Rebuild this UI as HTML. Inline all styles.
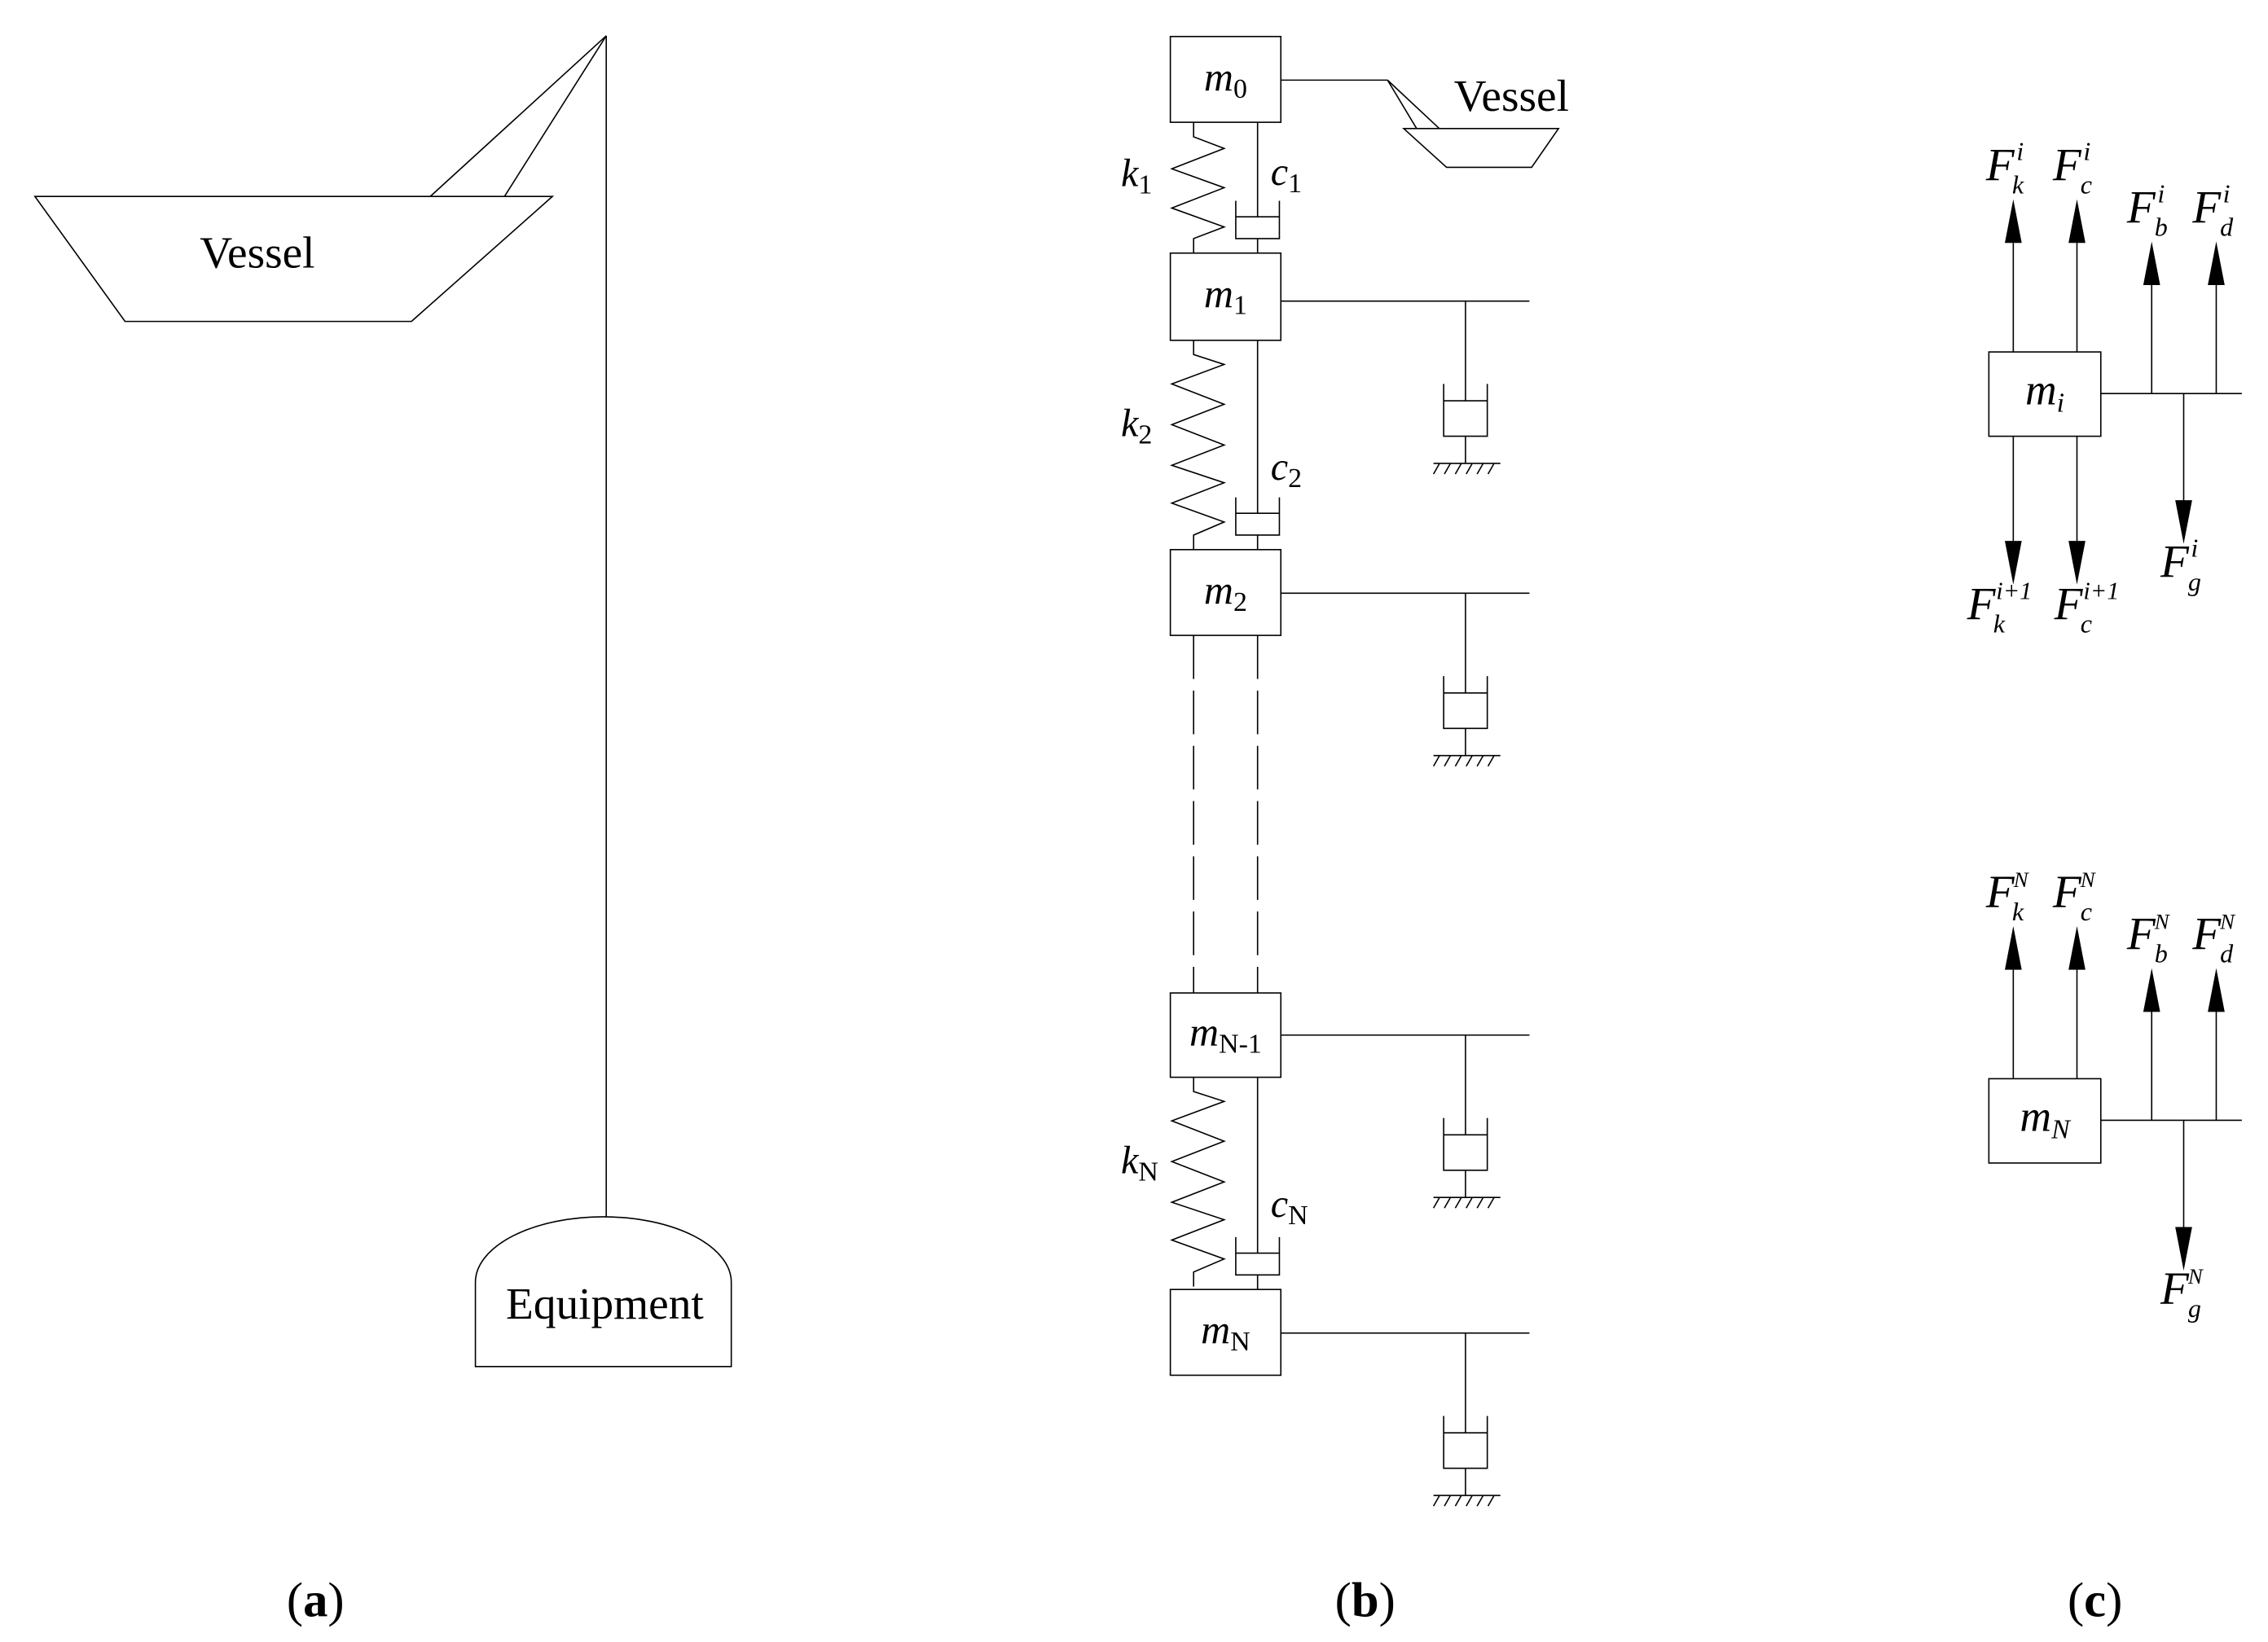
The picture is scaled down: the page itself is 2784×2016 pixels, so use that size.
<!DOCTYPE html>
<html><head><meta charset="utf-8"><style>
html,body{margin:0;padding:0;background:#fff;}
svg{display:block;}
text{font-family:"Liberation Serif",serif;fill:#000;}
</style></head><body>
<svg width="2784" height="2016" viewBox="0 0 1560 1129.4" xmlns="http://www.w3.org/2000/svg">
<defs>
<path id="spr1" d="M0,0 V10 L21,18 L-15,32 L21,45 L-15,59 L21,72 L0,80 V90" fill="none" stroke="#000" stroke-width="0.9"/>
<path id="spr2" d="M0,0 V9.8 L21,16.6 L-15,30 L21,44 L-15,58 L21,72 L-15,86 L21,98 L-15,112 L21,125 L0,134 V144" fill="none" stroke="#000" stroke-width="0.9"/>
<g id="sdamp" fill="none" stroke="#000" stroke-width="0.9">
<path d="M1008,0 V68.6 M993,68.6 H1023 M993,57 V93 H1023 V57 M1008,93 V111.7 M986,111.7 H1032"/>
<path d="M990,112 l-4,7 M997.5,112 l-4,7 M1005,112 l-4,7 M1012.5,112 l-4,7 M1020,112 l-4,7 M1027.5,112 l-4,7"/>
</g>
<g id="cdamp" fill="none" stroke="#000" stroke-width="0.9">
<path d="M850,-36 V-10 H880 V-36 M850,-25 H880 M865,-10 V0"/>
</g>
<polygon id="up" points="0,0 -5.8,30 5.8,30" fill="#000"/>
<polygon id="dn" points="0,0 -5.8,-30 5.8,-30" fill="#000"/>
</defs>

<!-- Panel (a) -->
<g fill="none" stroke="#000" stroke-width="0.9">
<line x1="417" y1="24.5" x2="417" y2="837"/>
<line x1="417" y1="24.5" x2="296" y2="135"/>
<line x1="417" y1="24.5" x2="347" y2="135"/>
<polygon points="24,135 380,135 283,221 86,221"/>
<path d="M327,940 V882 A88,45 0 0 1 503,882 V940 Z"/>
</g>
<text x="177" y="184" font-size="31" text-anchor="middle">Vessel</text>
<text x="416" y="907" font-size="31" text-anchor="middle">Equipment</text>

<!-- Panel (b) -->
<g fill="#fff" stroke="#000" stroke-width="0.9">
<rect x="805" y="25" width="76" height="59"/>
<rect x="805" y="174" width="76" height="60"/>
<rect x="805" y="378" width="76" height="59"/>
<rect x="805" y="683" width="76" height="58"/>
<rect x="805" y="887" width="76" height="59"/>
</g>
<g fill="none" stroke="#000" stroke-width="0.9">
<line x1="881" y1="55" x2="954.4" y2="55"/>
<line x1="954.4" y1="55" x2="974.4" y2="88.3"/>
<line x1="954.4" y1="55" x2="990" y2="88.3"/>
<polygon points="965.5,88.3 1072,88.3 1053.5,115 995,115"/>
<line x1="865" y1="84" x2="865" y2="149.4"/>
<line x1="865" y1="234" x2="865" y2="353"/>
<line x1="865" y1="741" x2="865" y2="862"/>
<line x1="821" y1="437" x2="821" y2="683" stroke-dasharray="30,8"/>
<line x1="865" y1="437" x2="865" y2="683" stroke-dasharray="30,8"/>
<line x1="881" y1="207" x2="1052" y2="207"/>
<line x1="881" y1="408" x2="1052" y2="408"/>
<line x1="881" y1="712" x2="1052" y2="712"/>
<line x1="881" y1="917" x2="1052" y2="917"/>
</g>
<use href="#spr1" x="821" y="84"/>
<use href="#spr2" x="821" y="234"/>
<use href="#spr2" x="821" y="741"/>
<use href="#cdamp" x="0" y="174"/>
<use href="#cdamp" x="0" y="378"/>
<use href="#cdamp" x="0" y="887"/>
<use href="#sdamp" x="0" y="207"/>
<use href="#sdamp" x="0" y="408"/>
<use href="#sdamp" x="0" y="712"/>
<use href="#sdamp" x="0" y="917"/>

<text x="1000" y="76" font-size="31">Vessel</text>
<text x="843" y="62" font-size="28" text-anchor="middle"><tspan font-style="italic">m</tspan><tspan font-size="19" dy="5">0</tspan></text>
<text x="843" y="211" font-size="28" text-anchor="middle"><tspan font-style="italic">m</tspan><tspan font-size="19" dy="5">1</tspan></text>
<text x="843" y="415" font-size="28" text-anchor="middle"><tspan font-style="italic">m</tspan><tspan font-size="19" dy="5">2</tspan></text>
<text x="843" y="719" font-size="28" text-anchor="middle"><tspan font-style="italic">m</tspan><tspan font-size="19" dy="5">N-1</tspan></text>
<text x="843" y="924" font-size="28" text-anchor="middle"><tspan font-style="italic">m</tspan><tspan font-size="19" dy="5">N</tspan></text>

<text x="771" y="128" font-size="27"><tspan font-style="italic">k</tspan><tspan font-size="19" dy="5">1</tspan></text>
<text x="874" y="127" font-size="27"><tspan font-style="italic">c</tspan><tspan font-size="19" dy="5">1</tspan></text>
<text x="771" y="300" font-size="27"><tspan font-style="italic">k</tspan><tspan font-size="19" dy="5">2</tspan></text>
<text x="874" y="330" font-size="27"><tspan font-style="italic">c</tspan><tspan font-size="19" dy="5">2</tspan></text>
<text x="771" y="807" font-size="27"><tspan font-style="italic">k</tspan><tspan font-size="19" dy="5">N</tspan></text>
<text x="874" y="837" font-size="27"><tspan font-style="italic">c</tspan><tspan font-size="19" dy="5">N</tspan></text>

<!-- Panel (c) group i -->
<g fill="none" stroke="#000" stroke-width="0.9">
<rect x="1368" y="242" width="77" height="58" fill="#fff"/>
<line x1="1384.8" y1="242" x2="1384.8" y2="167"/>
<line x1="1428.6" y1="242" x2="1428.6" y2="167"/>
<line x1="1445" y1="270.6" x2="1542" y2="270.6"/>
<line x1="1480" y1="270.6" x2="1480" y2="195"/>
<line x1="1524.4" y1="270.6" x2="1524.4" y2="195"/>
<line x1="1502" y1="270.6" x2="1502" y2="345"/>
<line x1="1384.8" y1="300" x2="1384.8" y2="373"/>
<line x1="1428.6" y1="300" x2="1428.6" y2="373"/>
</g>
<use href="#up" x="1384.8" y="137"/>
<use href="#up" x="1428.6" y="137"/>
<use href="#up" x="1480" y="166"/>
<use href="#up" x="1524.4" y="166"/>
<use href="#dn" x="1502" y="374"/>
<use href="#dn" x="1384.8" y="402"/>
<use href="#dn" x="1428.6" y="402"/>
<text x="1406.5" y="278" font-size="30" text-anchor="middle" font-style="italic">m<tspan font-size="19" dy="5">i</tspan></text>

<g font-style="italic" font-size="32">
<text x="1366" y="124">F</text><text x="1387" y="110" font-size="18">i</text><text x="1384" y="133" font-size="18">k</text>
<text x="1412" y="124">F</text><text x="1433" y="110" font-size="18">i</text><text x="1431" y="133" font-size="18">c</text>
<text x="1463" y="153">F</text><text x="1484" y="139" font-size="18">i</text><text x="1482" y="162" font-size="18">b</text>
<text x="1508" y="153">F</text><text x="1529" y="139" font-size="18">i</text><text x="1527" y="162" font-size="18">d</text>
<text x="1486" y="397">F</text><text x="1507" y="383" font-size="18">i</text><text x="1505" y="406" font-size="18">g</text>
<text x="1353" y="426">F</text><text x="1373" y="412" font-size="17">i+1</text><text x="1371" y="435" font-size="18">k</text>
<text x="1413" y="426">F</text><text x="1433" y="412" font-size="17">i+1</text><text x="1431" y="435" font-size="18">c</text>
</g>

<!-- Panel (c) group N -->
<g fill="none" stroke="#000" stroke-width="0.9">
<rect x="1368" y="742" width="77" height="58" fill="#fff"/>
<line x1="1384.8" y1="742" x2="1384.8" y2="667"/>
<line x1="1428.6" y1="742" x2="1428.6" y2="667"/>
<line x1="1445" y1="770.6" x2="1542" y2="770.6"/>
<line x1="1480" y1="770.6" x2="1480" y2="695"/>
<line x1="1524.4" y1="770.6" x2="1524.4" y2="695"/>
<line x1="1502" y1="770.6" x2="1502" y2="845"/>
</g>
<use href="#up" x="1384.8" y="637"/>
<use href="#up" x="1428.6" y="637"/>
<use href="#up" x="1480" y="666"/>
<use href="#up" x="1524.4" y="666"/>
<use href="#dn" x="1502" y="874"/>
<text x="1406.5" y="778" font-size="30" text-anchor="middle" font-style="italic">m<tspan font-size="19" dy="5">N</tspan></text>
<g font-style="italic" font-size="32">
<text x="1366" y="624">F</text><text x="1385" y="610" font-size="15">N</text><text x="1384" y="633" font-size="18">k</text>
<text x="1412" y="624">F</text><text x="1431" y="610" font-size="15">N</text><text x="1431" y="633" font-size="18">c</text>
<text x="1463" y="653">F</text><text x="1482" y="639" font-size="15">N</text><text x="1482" y="662" font-size="18">b</text>
<text x="1508" y="653">F</text><text x="1527" y="639" font-size="15">N</text><text x="1527" y="662" font-size="18">d</text>
<text x="1486" y="897">F</text><text x="1505" y="883" font-size="15">N</text><text x="1505" y="906" font-size="18">g</text>
</g>

<!-- Panel labels -->
<text x="217" y="1112" font-size="34" text-anchor="middle">(<tspan font-weight="bold">a</tspan>)</text>
<text x="939" y="1112" font-size="34" text-anchor="middle">(<tspan font-weight="bold">b</tspan>)</text>
<text x="1441" y="1112" font-size="34" text-anchor="middle">(<tspan font-weight="bold">c</tspan>)</text>
</svg>
</body></html>
